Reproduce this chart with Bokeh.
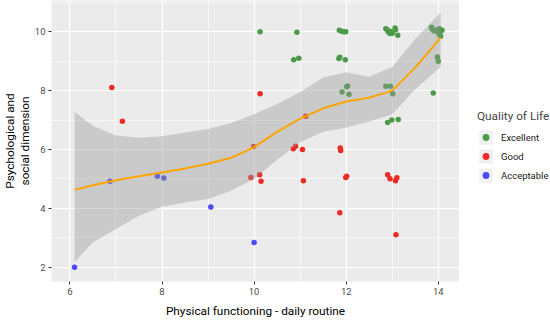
from bokeh.plotting import figure
from bokeh.layouts import row
from bokeh.models import FixedTicker, Legend, LegendItem, Range1d
from bokeh.embed import file_html
from bokeh.resources import INLINE

# ---- data ----
exc_x = [10.13, 10.93, 11.85, 11.9, 11.95, 11.99, 12.86, 12.89, 12.91, 12.95, 12.96, 13.0, 13.06, 13.07, 13.12,
         13.85, 13.87, 13.9, 13.95, 13.98, 14.0, 14.03, 14.05, 14.08, 14.02, 10.86, 10.97, 11.84, 11.86, 11.98,
         13.98, 14.0, 12.01, 12.03, 11.91, 12.06, 12.86, 12.96, 13.01, 13.89, 12.9, 12.99, 13.13]
exc_y = [10.0, 9.98, 10.05, 10.02, 10.0, 10.0, 10.1, 10.07, 10.0, 9.94, 10.01, 9.95, 10.13, 10.07, 9.88,
         10.15, 10.08, 10.03, 10.05, 10.03, 9.96, 9.9, 9.85, 10.05, 10.1, 9.05, 9.1, 9.09, 9.13, 9.05,
         9.14, 9.0, 8.13, 8.16, 7.95, 7.88, 8.15, 8.15, 7.89, 7.92, 6.92, 7.0, 7.02]
good_x = [6.91, 7.14, 10.13, 9.99, 9.93, 10.12, 10.15, 11.12, 10.85, 10.9, 11.05, 11.87, 11.88, 11.07,
          11.99, 12.01, 12.9, 12.95, 13.07, 13.1, 11.86, 13.08]
good_y = [8.11, 6.96, 7.89, 6.10, 5.05, 5.14, 4.92, 7.13, 6.03, 6.11, 6.0, 6.05, 5.97, 4.94,
          5.05, 5.09, 5.14, 5.01, 4.94, 5.04, 3.85, 3.11]
acc_x = [6.10, 6.87, 7.90, 8.04, 9.06, 10.0]
acc_y = [2.0, 4.92, 5.09, 5.03, 4.05, 2.84]

smooth_x = [6.1, 6.5, 7.0, 7.5, 8.0, 8.5, 9.0, 9.5, 10.0, 10.5, 11.0, 11.5, 12.0, 12.5, 13.0, 13.5, 14.05]
smooth_y = [4.63, 4.79, 4.96, 5.09, 5.22, 5.36, 5.52, 5.72, 6.08, 6.6, 7.05, 7.4, 7.63, 7.76, 8.0, 8.78, 9.8]
upper = [7.28, 6.8, 6.48, 6.4, 6.45, 6.58, 6.7, 6.9, 7.2, 7.55, 7.95, 8.45, 8.62, 8.47, 8.8, 9.75, 10.65]
lower = [2.18, 2.85, 3.3, 3.75, 4.06, 4.2, 4.32, 4.6, 5.0, 5.65, 6.25, 6.6, 6.75, 6.95, 7.2, 8.05, 8.8]

categories = ["Excellent", "Good", "Acceptable"]
colors = ["#4C9A48", "#EE2A24", "#4B4BF5"]

x_ticks = [6, 8, 10, 12, 14]
y_ticks = [2, 4, 6, 8, 10]

FONT = "Roboto"

p = figure(frame_width=408, frame_height=281, x_range=(5.6, 14.46), y_range=(1.52, 11.06),
           output_backend="svg", toolbar_location=None,
           min_border_left=40, min_border_right=0, min_border_top=0, min_border_bottom=27)
p.background_fill_color = "#EBEBEB"
p.border_fill_color = "white"
p.outline_line_color = None

p.xaxis.ticker = FixedTicker(ticks=x_ticks, minor_ticks=[5, 7, 9, 11, 13, 15])
p.yaxis.ticker = FixedTicker(ticks=y_ticks, minor_ticks=[1, 3, 5, 7, 9, 11])
for g in (p.xgrid[0], p.ygrid[0]):
    g.grid_line_color = "white"
    g.grid_line_width = 1.2
    g.minor_grid_line_color = "white"
    g.minor_grid_line_width = 0.6

for ax in (p.xaxis[0], p.yaxis[0]):
    ax.axis_line_color = None
    ax.major_tick_line_color = "#333333"
    ax.major_tick_out = 3
    ax.major_tick_in = 0
    ax.minor_tick_line_color = None
    ax.major_label_text_font = FONT
    ax.major_label_text_font_size = "9.5px"
    ax.major_label_text_color = "#4D4D4D"
    ax.axis_label_text_font = FONT
    ax.axis_label_text_font_size = "11.8px"
    ax.axis_label_text_font_style = "normal"
    ax.axis_label_text_color = "black"
    ax.axis_label_text_line_height = 1.05
    ax.major_label_standoff = 2

p.xaxis.axis_label = "Physical functioning - daily routine"
p.xaxis.axis_label_standoff = 6
p.yaxis.axis_label = "Psychological and\nsocial dimension"
p.yaxis.axis_label_standoff = 0

# points
pts = [(exc_x, exc_y), (good_x, good_y), (acc_x, acc_y)]
for (xs, ys), c in zip(pts, colors):
    p.scatter(xs, ys, size=5.5, fill_color=c, line_color=None)

# smooth
p.varea(x=smooth_x, y1=lower, y2=upper, fill_color="#999999", fill_alpha=0.4)
p.line(smooth_x, smooth_y, line_color="#FFA500", line_width=2)

# legend figure (keys only; dummy renderers sit outside its visible range)
p2 = figure(width=92, height=316, x_range=Range1d(0, 1), y_range=Range1d(0, 1),
            output_backend="svg", toolbar_location=None,
            x_axis_location=None, y_axis_location=None,
            min_border_left=0, min_border_right=0, min_border_top=0, min_border_bottom=0)
p2.grid.visible = False
p2.outline_line_color = None
p2.background_fill_color = "white"
bg = p2.quad(left=[-3], right=[-2], top=[-2], bottom=[-3], fill_color="#F0F0F0", line_color=None)
items = []
for cat, c in zip(categories, colors):
    r = p2.scatter(x=[-2], y=[-2], size=5, fill_color=c, line_color=None)
    items.append(LegendItem(label=cat, renderers=[bg, r]))
legend = Legend(items=items, location=(18, 93), title="Quality of Life")
legend.title_text_font = FONT
legend.title_text_font_size = "11.8px"
legend.title_text_font_style = "normal"
legend.title_standoff = 5
legend.label_text_font = FONT
legend.label_text_font_size = "9.5px"
legend.label_text_color = "#1A1A1A"
legend.glyph_width = 17
legend.glyph_height = 18
legend.label_height = 18
legend.spacing = 1
legend.padding = 0
legend.margin = 0
legend.label_standoff = 7
legend.background_fill_alpha = 0
legend.border_line_alpha = 0
p2.add_layout(legend, "center")

open("out.html", "w").write(file_html(row(p, p2), INLINE))
